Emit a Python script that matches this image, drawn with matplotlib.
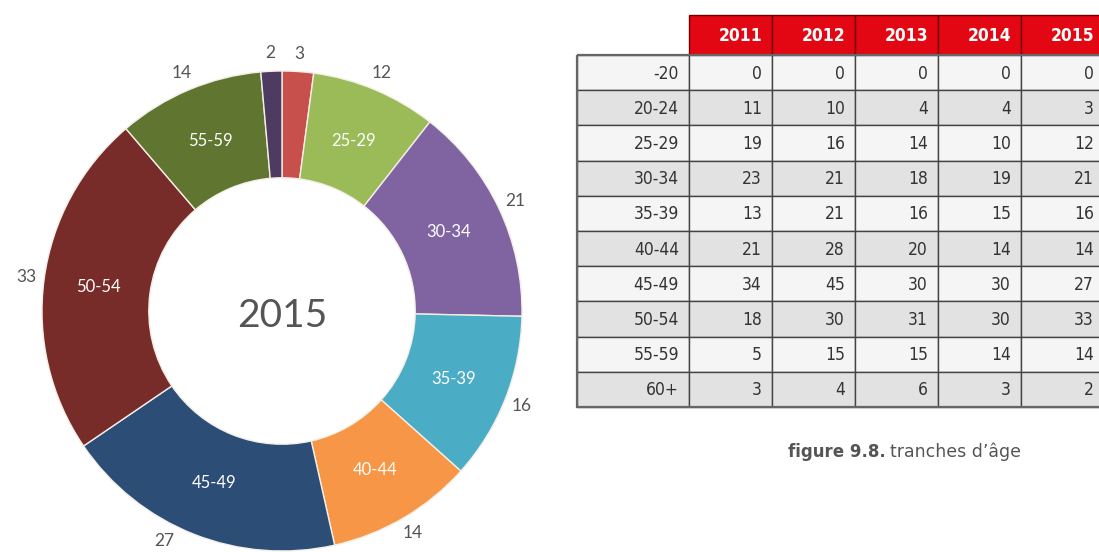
import numpy as np
import matplotlib.pyplot as plt
from matplotlib.patches import Rectangle

# -----------------------------
# Data
# -----------------------------
age_groups = ['-20', '20-24', '25-29', '30-34', '35-39',
              '40-44', '45-49', '50-54', '55-59', '60+']
years = ['2011', '2012', '2013', '2014', '2015']
counts = {
    '2011': [0, 11, 19, 23, 13, 21, 34, 18, 5, 3],
    '2012': [0, 10, 16, 21, 21, 28, 45, 30, 15, 4],
    '2013': [0, 4, 14, 18, 16, 20, 30, 31, 15, 6],
    '2014': [0, 4, 10, 19, 15, 14, 30, 30, 14, 3],
    '2015': [0, 3, 12, 21, 16, 14, 27, 33, 14, 2],
}

# donut shows 2015, without the empty "-20" group
donut_groups = age_groups[1:]
donut_values = counts['2015'][1:]
donut_colors = ['#c8504c', '#9bbb59', '#8064a2', '#4bacc6', '#f79646',
                '#2c4d75', '#772c2a', '#5f7530', '#4d3b62']
inner_label_min = 5   # slices smaller than this get no inner label

TXT = '#555555'
W, H = 1099, 552

fig = plt.figure(figsize=(W / 100, H / 100), dpi=100)
fig.patch.set_facecolor('white')

# -----------------------------
# Donut
# -----------------------------
cx, cy, R = 282, 311, 240
ax = fig.add_axes([(cx - R) / W, (H - cy - R) / H, 2 * R / W, 2 * R / H])
wedges, _ = ax.pie(donut_values, colors=donut_colors, startangle=90,
                   counterclock=False, radius=1,
                   wedgeprops=dict(width=0.445, edgecolor='#f4efe6', linewidth=1))
ax.set_xlim(-1, 1)
ax.set_ylim(-1, 1)
ax.set_aspect('equal')
ax.axis('off')

# outer value labels near the bottom edge are pushed sideways to stay visible
label_shift = {'45-49': -5.5}

for w, grp, val in zip(wedges, donut_groups, donut_values):
    mid = (w.theta1 + w.theta2) / 2 + label_shift.get(grp, 0)
    ang = np.deg2rad(mid)
    ax.text(1.075 * np.cos(ang), 1.075 * np.sin(ang), str(val),
            ha='center', va='center', fontsize=12.5, color=TXT,
            family=['Lato', 'DejaVu Sans'], clip_on=False)
    if val >= inner_label_min:
        ang = np.deg2rad((w.theta1 + w.theta2) / 2)
        ax.text(0.77 * np.cos(ang), 0.77 * np.sin(ang), grp,
                ha='center', va='center', fontsize=12, color='white',
                family=['Lato', 'DejaVu Sans'])

ax.text(0, -0.02, '2015', ha='center', va='center', fontsize=28,
        color=TXT, family=['Lato', 'DejaVu Sans'])

# -----------------------------
# Table (drawn in pixel coordinates)
# -----------------------------
tx = fig.add_axes([0, 0, 1, 1])
tx.set_xlim(0, W)
tx.set_ylim(H, 0)
tx.axis('off')

x0, label_w, col_w = 577, 112, 83
head_top, head_h = 15, 40
row_top, row_h = 55, 35.2
font_tab = dict(family='DejaVu Sans', fontstretch='condensed', fontsize=12.5)

# header
for j, yr in enumerate(years):
    xl = x0 + label_w + j * col_w
    tx.add_patch(Rectangle((xl, head_top), col_w, head_h, facecolor='#e30613',
                           edgecolor='#6a0000', linewidth=1))
    tx.text(xl + col_w - 10, head_top + head_h / 2 + 1, yr, ha='right',
            va='center', color='white', fontweight='bold', **font_tab)

# body
for i, grp in enumerate(age_groups):
    yt = row_top + i * row_h
    bg = '#f5f5f5' if i % 2 == 0 else '#e2e2e2'
    tx.add_patch(Rectangle((x0, yt), label_w, row_h, facecolor=bg,
                           edgecolor='#444444', linewidth=1))
    tx.text(x0 + label_w - 10, yt + row_h / 2 + 1, grp, ha='right',
            va='center', color='#333333', **font_tab)
    for j, yr in enumerate(years):
        xl = x0 + label_w + j * col_w
        tx.add_patch(Rectangle((xl, yt), col_w, row_h, facecolor=bg,
                               edgecolor='#444444', linewidth=1))
        tx.text(xl + col_w - 10, yt + row_h / 2 + 1, str(counts[yr][i]),
                ha='right', va='center', color='#333333', **font_tab)

# outer border
n = len(age_groups)
tx.add_patch(Rectangle((x0, row_top), label_w + len(years) * col_w, n * row_h,
                       facecolor='none', edgecolor='#666666', linewidth=1.6))

# -----------------------------
# Caption
# -----------------------------
fig.canvas.draw()
rend = fig.canvas.get_renderer()
t1 = tx.text(788, 452, 'figure 9.8.', ha='left', va='center', fontsize=12,
             color=TXT, fontweight='bold', family='DejaVu Sans')
bb = t1.get_window_extent(renderer=rend)
tx.text(bb.x1 + 4, 452, 'tranches d\u2019\u00e2ge', ha='left', va='center',
        fontsize=12.5, color=TXT, family='DejaVu Sans')

fig.savefig('out.png', dpi=100, facecolor='white')
